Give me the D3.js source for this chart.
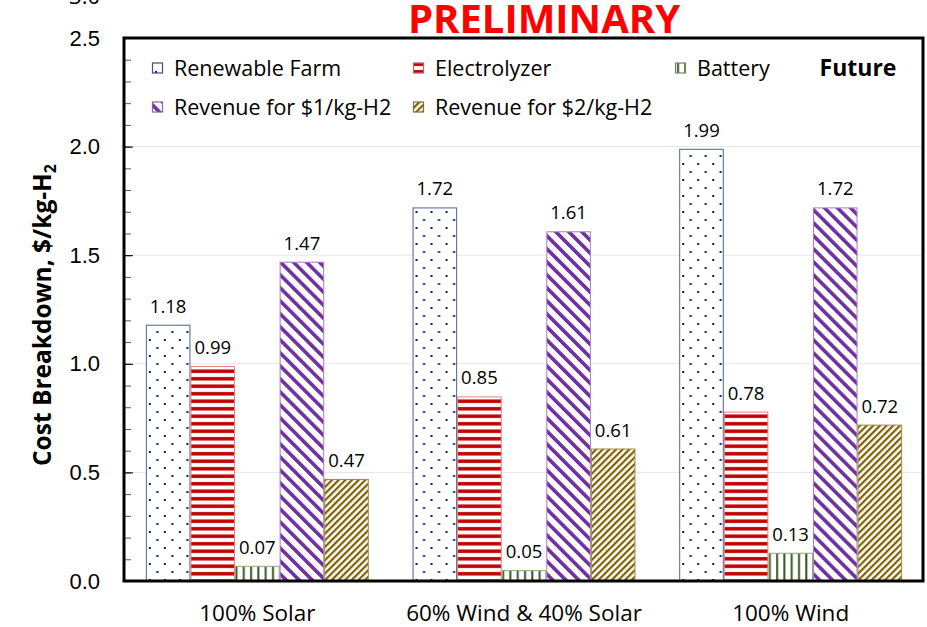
<!DOCTYPE html>
<html>
<head>
<meta charset="utf-8">
<script src="https://cdn.jsdelivr.net/npm/d3@7"></script>
<style>
    html, body { margin: 0; padding: 0; background: #fff; }
    svg { display: block; font-family: "Open Sans", "Noto Sans", sans-serif; }
</style>
</head>
<body>
<svg id="chart" width="927" height="627"></svg>
<script>

const categories = [ "100% Solar", "60% Wind & 40% Solar", "100% Wind" ];
const seriesNames = [ "Renewable Farm", "Electrolyzer", "Battery", "Revenue for $1/kg-H2", "Revenue for $2/kg-H2" ];

const renewableFarm = [ 1.18, 1.72, 1.99 ];
const electrolyzer = [ 0.99, 0.85, 0.78 ];
const battery = [ 0.07, 0.05, 0.13 ];
const revenue1 = [ 1.47, 1.61, 1.72 ];
const revenue2 = [ 0.47, 0.61, 0.72 ];

const yTicks = [ 0, 0.5, 1.0, 1.5, 2.0, 2.5 ];

const seriesValues = [ renewableFarm, electrolyzer, battery, revenue1, revenue2 ];

const width = 927;
const height = 627;
const margin = { top: 38, right: 3, bottom: 46, left: 124 };

const svg = d3.select( "#chart" );

// patterns for the bar fills
const defs = svg.append( "defs" );

const pDots = defs.append( "pattern" )
    .attr( "id", "p0" )
    .attr( "patternUnits", "userSpaceOnUse" )
    .attr( "width", 15 ).attr( "height", 16 );
pDots.append( "rect" ).attr( "width", 15 ).attr( "height", 16 ).attr( "fill", "#fff" );
pDots.append( "rect" ).attr( "x", 3 ).attr( "y", 3 ).attr( "width", 2 ).attr( "height", 2 ).attr( "fill", "#002060" );
pDots.append( "rect" ).attr( "x", 10.5 ).attr( "y", 11 ).attr( "width", 2 ).attr( "height", 2 ).attr( "fill", "#002060" );

const pHoriz = defs.append( "pattern" )
    .attr( "id", "p1" )
    .attr( "patternUnits", "userSpaceOnUse" )
    .attr( "width", 8 ).attr( "height", 7.5 );
pHoriz.append( "rect" ).attr( "width", 8 ).attr( "height", 7.5 ).attr( "fill", "#fff" );
pHoriz.append( "rect" ).attr( "y", 2 ).attr( "width", 8 ).attr( "height", 3.5 ).attr( "fill", "#C00000" );

const pVert = defs.append( "pattern" )
    .attr( "id", "p2" )
    .attr( "patternUnits", "userSpaceOnUse" )
    .attr( "width", 7.3 ).attr( "height", 8 );
pVert.append( "rect" ).attr( "width", 7.3 ).attr( "height", 8 ).attr( "fill", "#fff" );
pVert.append( "rect" ).attr( "x", 2 ).attr( "width", 2 ).attr( "height", 8 ).attr( "fill", "#375623" );

const pWide = defs.append( "pattern" )
    .attr( "id", "p3" )
    .attr( "patternUnits", "userSpaceOnUse" )
    .attr( "width", 9.2 ).attr( "height", 10 )
    .attr( "patternTransform", "rotate(-45)" );
pWide.append( "rect" ).attr( "width", 9.2 ).attr( "height", 10 ).attr( "fill", "#fff" );
pWide.append( "rect" ).attr( "width", 3.6 ).attr( "height", 10 ).attr( "fill", "#7030A0" );

const pNarrow = defs.append( "pattern" )
    .attr( "id", "p4" )
    .attr( "patternUnits", "userSpaceOnUse" )
    .attr( "width", 4.7 ).attr( "height", 10 )
    .attr( "patternTransform", "rotate(45)" );
pNarrow.append( "rect" ).attr( "width", 4.7 ).attr( "height", 10 ).attr( "fill", "#fff" );
pNarrow.append( "rect" ).attr( "width", 2.2 ).attr( "height", 10 ).attr( "fill", "#806000" );

const borders = [ "#4A6396", "#E88080", "#8FA878", "#A57CCB", "#A08A40" ];

// scales
const x0 = d3.scaleBand()
    .domain( categories )
    .range( [ margin.left, width - margin.right ] )
    .paddingInner( 0.164 )
    .paddingOuter( 0.082 );

const x1 = d3.scaleBand()
    .domain( seriesNames )
    .range( [ 0, x0.bandwidth() ] );

const y = d3.scaleLinear()
    .domain( [ 0, 2.5 ] )
    .range( [ height - margin.bottom, margin.top ] );

// gridlines
svg.append( "g" )
    .selectAll( "line" )
    .data( yTicks.slice( 1 ) )
    .enter()
    .append( "line" )
    .attr( "x1", margin.left ).attr( "x2", width - margin.right )
    .attr( "y1", d => y( d ) ).attr( "y2", d => y( d ) )
    .attr( "stroke", "#E6E6E6" )
    .attr( "stroke-width", 1 );

// bars
const rows = categories.map( ( c, i ) => seriesNames.map( ( s, j ) => ( { cat: c, series: s, idx: j, value: seriesValues[ j ][ i ] } ) ) );

const groups = svg.append( "g" )
    .selectAll( "g" )
    .data( rows )
    .enter()
    .append( "g" )
    .attr( "transform", ( d, i ) => `translate(${x0( categories[ i ] )},0)` );

groups.selectAll( "rect" )
    .data( d => d )
    .enter()
    .append( "rect" )
    .attr( "x", d => x1( d.series ) + 0.5 )
    .attr( "y", d => y( d.value ) + 0.5 )
    .attr( "width", x1.bandwidth() - 1 )
    .attr( "height", d => y( 0 ) - y( d.value ) - 0.5 )
    .attr( "fill", d => `url(#p${d.idx})` )
    .attr( "stroke", d => borders[ d.idx ] )
    .attr( "stroke-width", 1 );

groups.selectAll( "text" )
    .data( d => d )
    .enter()
    .append( "text" )
    .attr( "x", d => x1( d.series ) + x1.bandwidth() / 2 )
    .attr( "y", d => y( d.value ) - 12 )
    .attr( "text-anchor", "middle" )
    .attr( "font-size", 18.5 )
    .attr( "fill", "#000" )
    .text( d => d.value.toFixed( 2 ) );

// y axis ticks inside the frame
const minorTicks = d3.range( 0, 26 ).map( d => d / 10 );

svg.append( "g" )
    .attr( "transform", `translate(${margin.left},0)` )
    .call( d3.axisRight( y ).tickValues( minorTicks ).tickSize( 7 ).tickFormat( "" ) )
    .call( g => g.select( ".domain" ).remove() )
    .call( g => g.selectAll( ".tick line" ).attr( "stroke", "#595959" ) );

svg.append( "g" )
    .attr( "transform", `translate(${margin.left},0)` )
    .call( d3.axisRight( y ).tickValues( yTicks ).tickSize( 9 ).tickFormat( "" ) )
    .call( g => g.select( ".domain" ).remove() )
    .call( g => g.selectAll( ".tick line" ).attr( "stroke", "#000" ) );

// y labels
svg.append( "g" )
    .attr( "transform", `translate(${margin.left},0)` )
    .call( d3.axisLeft( y ).tickValues( yTicks ).tickSize( 0 ).tickPadding( 24 ).tickFormat( d3.format( ".1f" ) ) )
    .call( g => g.select( ".domain" ).remove() )
    .call( g => g.selectAll( "text" ).attr( "font-size", 22 ).attr( "font-family", null ).attr( "fill", "#000" ) );

// cut-off label at the very top of the picture
svg.append( "text" )
    .attr( "x", margin.left - 24 )
    .attr( "y", 4 )
    .attr( "text-anchor", "end" )
    .attr( "font-size", 22 )
    .text( "3.0" );

// frame
svg.append( "rect" )
    .attr( "x", margin.left )
    .attr( "y", margin.top )
    .attr( "width", width - margin.left - margin.right - 1 )
    .attr( "height", height - margin.top - margin.bottom )
    .attr( "fill", "none" )
    .attr( "stroke", "#000" )
    .attr( "stroke-width", 3 );

// x labels
svg.append( "g" )
    .selectAll( "text" )
    .data( categories )
    .enter()
    .append( "text" )
    .attr( "x", d => x0( d ) + x0.bandwidth() / 2 )
    .attr( "y", 621 )
    .attr( "text-anchor", "middle" )
    .attr( "font-size", 22.5 )
    .text( d => d );

// y title
const yTitle = svg.append( "text" )
    .attr( "transform", "translate(51,315) rotate(-90)" )
    .attr( "text-anchor", "middle" )
    .attr( "font-size", 24.5 )
    .attr( "font-weight", "bold" );
yTitle.append( "tspan" ).text( "Cost Breakdown, $/kg-H" );
yTitle.append( "tspan" ).attr( "font-size", 16 ).attr( "dy", 5 ).text( "2" );

// title
svg.append( "text" )
    .attr( "x", 544 )
    .attr( "y", 33 )
    .attr( "text-anchor", "middle" )
    .attr( "font-size", 40 )
    .attr( "font-weight", "bold" )
    .attr( "fill", "#FF0000" )
    .text( "PRELIMINARY" );

svg.append( "text" )
    .attr( "x", 858 )
    .attr( "y", 76 )
    .attr( "text-anchor", "middle" )
    .attr( "font-size", 23 )
    .attr( "font-weight", "bold" )
    .text( "Future" );

// legend
const legendPos = [ [ 152, 68 ], [ 413, 68 ], [ 675, 68 ], [ 152, 107 ], [ 413, 107 ] ];

const legend = svg.append( "g" )
    .selectAll( "g" )
    .data( seriesNames )
    .enter()
    .append( "g" )
    .attr( "transform", ( d, i ) => `translate(${legendPos[ i ][ 0 ]},${legendPos[ i ][ 1 ]})` );

legend.append( "rect" )
    .attr( "x", 0.5 ).attr( "y", -5 )
    .attr( "width", 10 ).attr( "height", 10 )
    .attr( "fill", ( d, i ) => `url(#p${i})` )
    .attr( "stroke", ( d, i ) => d3.color( borders[ i ] ).darker( 0.6 ) )
    .attr( "stroke-width", 1.2 );

legend.append( "text" )
    .attr( "x", 22 )
    .attr( "y", 7.5 )
    .attr( "font-size", 21.5 )
    .text( d => d );

</script>
</body>
</html>
